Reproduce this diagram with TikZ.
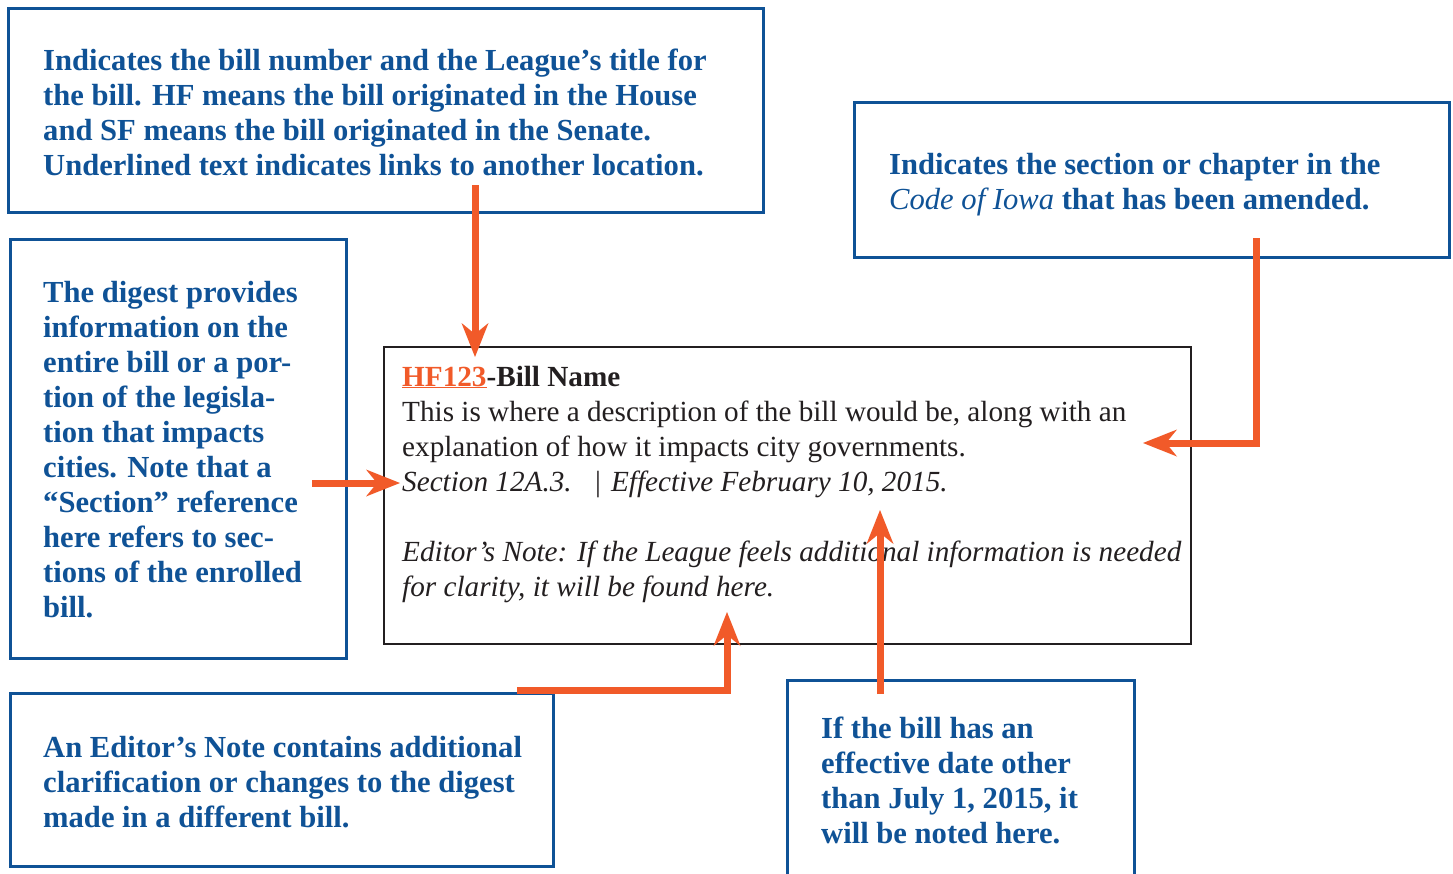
\documentclass[tikz,border=0pt]{standalone}
\usepackage{fontspec}
\setmainfont{Liberation Serif}
\usetikzlibrary{arrows.meta}
\definecolor{lblue}{HTML}{0F5296}
\definecolor{lorange}{HTML}{F15A29}
\definecolor{ink}{HTML}{231F20}
\begin{document}
\begin{tikzpicture}[x=1pt,y=-1pt,
  bluebox/.style={draw=lblue, line width=3pt, inner sep=0pt, outer sep=0pt, anchor=north west},
  billbox/.style={draw=ink, line width=2.5pt, inner sep=0pt, outer sep=0pt, anchor=north west},
  note/.style={anchor=base west, inner sep=0pt, text=lblue, font=\fontsize{30.6}{35}\selectfont\bfseries},
  billtext/.style={anchor=base west, inner sep=0pt, text=ink, font=\fontsize{29.2}{35}\selectfont},
  pointer/.style={draw=lorange, line width=7pt, line join=miter, line cap=butt,
    -{Stealth[length=34pt,width=27pt,inset=11pt,line width=0pt]}}
]
\useasboundingbox (0,0) rectangle (1453,873);
\clip (0,0) rectangle (1453,873);
\fill[white] (0,0) rectangle (1453,873);

% boxes
\node[bluebox, minimum width=755pt, minimum height=204pt] (b1) at (8,8) {};
\node[bluebox, minimum width=595pt, minimum height=155pt] (b2) at (854,102) {};
\node[bluebox, minimum width=336pt, minimum height=419pt] (b3) at (10,239) {};
\node[bluebox, minimum width=543pt, minimum height=173pt] (b4) at (10,693) {};
\node[bluebox, minimum width=347pt, minimum height=220pt] (b5) at (787,680) {};
\node[billbox, minimum width=807pt, minimum height=297pt] (bill) at (384,347) {};

% box texts
\foreach \t [count=\i from 0] in {
  {Indicates the bill number and the League’s title for},
  {the bill. HF means the bill originated in the House},
  {and SF means the bill originated in the Senate.},
  {Underlined text indicates links to another location.}}
  \node[note] (b1l\i) at (43,{70+35*\i}) {\t};

\node[note] (b2l0) at (889,174) {Indicates the section or chapter in the};
\node[note] (b2l1) at (889,209) {{\mdseries\itshape Code of Iowa} that has been amended.};

\foreach \t [count=\i from 0] in {
  {The digest provides},
  {information on the},
  {entire bill or a por-},
  {tion of the legisla-},
  {tion that impacts},
  {cities. Note that a},
  {“Section” reference},
  {here refers to sec-},
  {tions of the enrolled},
  {bill.}}
  \node[note] (b3l\i) at (43,{302+35.1*\i}) {\t};

\foreach \t [count=\i from 0] in {
  {An Editor’s Note contains additional},
  {clarification or changes to the digest},
  {made in a different bill.}}
  \node[note] (b4l\i) at (43,{757+35*\i}) {\t};

\foreach \t [count=\i from 0] in {
  {If the bill has an},
  {effective date other},
  {than July 1, 2015, it},
  {will be noted here.}}
  \node[note] (b5l\i) at (821,{738+35*\i}) {\t};

% bill texts
\node[billtext] (t0) at (402,386) {\textcolor{lorange}{\bfseries\underline{HF123}}\bfseries-Bill Name};
\node[billtext] (t1) at (402,421) {This is where a description of the bill would be, along with an};
\node[billtext] (t2) at (402,456) {explanation of how it impacts city governments.};
\node[billtext] (t3) at (402,491) {\itshape Section 12A.3.\hspace{0.8em}{\upshape|}\hspace{0.35em}Effective February 10, 2015.};
\node[billtext] (t4) at (402,561) {\itshape Editor’s Note: If the League feels additional information is needed};
\node[billtext] (t5) at (402,596) {\itshape for clarity, it will be found here.};

% connectors
\coordinate (a1s) at (475,185); \coordinate (a1e) at (475,357);
\coordinate (a2s) at (1256,238); \coordinate (a2c) at (1256,443); \coordinate (a2e) at (1143,443);
\coordinate (a3s) at (312,483); \coordinate (a3e) at (400,483);
\coordinate (a4s) at (517,690); \coordinate (a4c) at (727,690); \coordinate (a4e) at (727,612);
\coordinate (a5s) at (880,694); \coordinate (a5e) at (880,510);
\draw[pointer] (a1s) -- (a1e);
\draw[pointer] (a2s) -- (a2c) -- (a2e);
\draw[pointer] (a3s) -- (a3e);
\draw[pointer] (a4s) -- (a4c) -- (a4e);
\draw[pointer] (a5s) -- (a5e);
\end{tikzpicture}
\end{document}
